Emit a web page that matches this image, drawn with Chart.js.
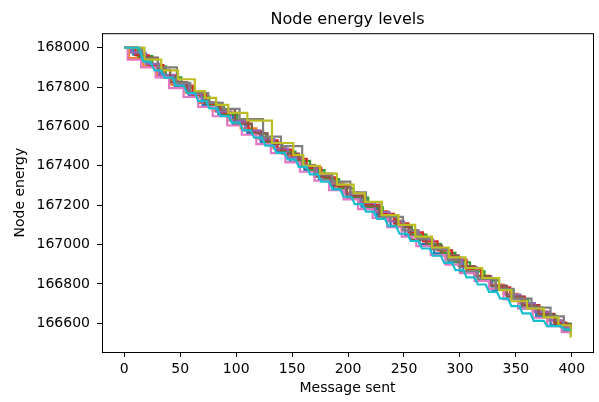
<!DOCTYPE html>
<html>
<head>
<meta charset="utf-8">
<script src="https://cdn.jsdelivr.net/npm/chart.js@4"></script>
<style>
  html, body { margin: 0; padding: 0; background: #fff; }
  #wrap { width: 599px; height: 402px; }
</style>
</head>
<body>
<div id="wrap"><canvas id="canvas" width="599" height="402"></canvas></div>
<script>
// tick labels
var xTicks = [0, 50, 100, 150, 200, 250, 300, 350, 400];
var yTicks = [166600, 166800, 167000, 167200, 167400, 167600, 167800, 168000];

// each node: [message, energy] at every point where its level changes
var node0 = [[0,168000],[8,167965],[20,167905],[33,167850],[45,167802],[58,167755],[70,167710],[84,167662],[97,167610],[110,167568],[122,167520],[136,167470],[148,167422],[161,167378],[174,167330],[187,167282],[199,167238],[212,167192],[226,167140],[238,167095],[251,167048],[264,167002],[277,166955],[290,166910],[303,166862],[316,166816],[329,166770],[342,166722],[355,166676],[368,166635],[381,166592],[393,166560],[399,166556]];
var node1 = [[0,168000],[4,167948],[17,167905],[29,167860],[42,167812],[55,167770],[66,167720],[79,167680],[92,167632],[104,167590],[118,167540],[131,167492],[144,167450],[157,167405],[170,167356],[183,167310],[196,167264],[209,167216],[222,167170],[235,167122],[248,167074],[261,167030],[274,166980],[287,166936],[300,166890],[313,166842],[326,166796],[339,166750],[352,166702],[365,166660],[378,166615],[390,166580],[399,166550]];
var node2 = [[0,168000],[12,167958],[25,167905],[37,167850],[51,167798],[63,167752],[76,167708],[89,167660],[101,167612],[114,167565],[127,167518],[140,167472],[153,167425],[166,167378],[179,167332],[192,167286],[205,167238],[218,167190],[231,167144],[244,167098],[257,167050],[270,167004],[283,166958],[296,166910],[309,166864],[322,166818],[335,166770],[348,166724],[361,166680],[374,166636],[387,166598],[399,166548]];
var node3 = [[0,168000],[10,167962],[22,167912],[35,167860],[48,167808],[61,167762],[73,167716],[86,167670],[99,167624],[111,167576],[124,167530],[137,167482],[150,167436],[163,167390],[176,167342],[189,167296],[202,167250],[215,167202],[228,167156],[241,167108],[254,167062],[267,167016],[280,166970],[293,166922],[306,166876],[319,166830],[332,166782],[345,166736],[358,166692],[371,166648],[384,166604],[395,166566],[399,166560]];
var node4 = [[0,168000],[6,167975],[19,167918],[31,167862],[44,167815],[57,167766],[69,167722],[82,167675],[95,167630],[108,167580],[121,167536],[134,167488],[146,167442],[159,167398],[172,167350],[185,167305],[198,167258],[211,167212],[224,167166],[237,167118],[250,167072],[263,167026],[276,166978],[289,166932],[302,166886],[315,166840],[328,166792],[341,166746],[354,166702],[367,166658],[380,166615],[392,166578],[399,166556]];
var node5 = [[0,168000],[14,167950],[30,167888],[41,167825],[56,167775],[72,167720],[85,167688],[99,167615],[114,167565],[128,167512],[141,167462],[156,167402],[170,167345],[184,167300],[199,167245],[214,167195],[228,167140],[243,167090],[256,167025],[270,166995],[284,166945],[299,166890],[313,166840],[327,166790],[342,166735],[356,166690],[370,166645],[385,166595],[399,166545]];
var node6 = [[0,168000],[3,167940],[15,167900],[28,167850],[40,167795],[53,167750],[66,167700],[79,167652],[92,167605],[105,167558],[118,167510],[131,167465],[144,167418],[157,167370],[170,167325],[183,167276],[196,167230],[209,167180],[222,167135],[235,167088],[248,167040],[261,166992],[274,166946],[287,166898],[300,166855],[313,166815],[326,166775],[339,166722],[352,166675],[365,166628],[378,166585],[391,166555],[399,166540]];
var node7 = [[0,168000],[16,167945],[30,167900],[47,167822],[59,167770],[75,167720],[88,167690],[103,167637],[124,167548],[140,167500],[159,167404],[170,167360],[186,167320],[202,167265],[216,167215],[230,167141],[249,167073],[262,167030],[275,166975],[289,166920],[300,166865],[316,166825],[332,166775],[348,166725],[364,166680],[381,166635],[393,166564],[399,166556]];
var node8 = [[0,168000],[18,167940],[33,167885],[48,167840],[63,167780],[72,167745],[82,167710],[93,167669],[110,167630],[132,167516],[151,167455],[160,167400],[175,167360],[190,167305],[205,167260],[215,167217],[230,167150],[245,167100],[260,167040],[275,166985],[290,166935],[305,166880],[320,166830],[335,166768],[346,166712],[360,166675],[375,166630],[388,166590],[399,166528]];
// last node drops a little slower, so its corners are listed as plain points
var node9 = [[0,168000],[13,168000],[17,167930],[23,167930],[27,167885],[33,167885],[36,167848],[43,167848],[46,167808],[53,167808],[56,167770],[63,167770],[66,167730],[73,167730],[76,167692],[83,167692],[86,167652],[93,167652],[96,167620],[103,167620],[106,167580],[113,167580],[116,167543],[123,167543],[126,167503],[133,167503],[136,167466],[143,167466],[146,167433],[153,167433],[156,167395],[163,167395],[166,167357],[173,167357],[176,167320],[183,167320],[186,167280],[193,167280],[196,167243],[203,167243],[206,167205],[213,167205],[216,167167],[223,167167],[226,167130],[233,167130],[236,167093],[243,167093],[246,167055],[253,167055],[256,167018],[263,167018],[266,166980],[273,166980],[276,166943],[283,166943],[286,166907],[293,166907],[296,166870],[303,166870],[306,166833],[313,166833],[316,166797],[323,166797],[326,166760],[333,166760],[336,166725],[343,166725],[346,166687],[353,166687],[356,166650],[363,166650],[366,166612],[375,166612],[378,166585],[390,166585],[393,166570],[399,166566]];

var nodes = [node0, node1, node2, node3, node4, node5, node6, node7, node8, node9];
var colors = ['#1f77b4', '#ff7f0e', '#2ca02c', '#d62728', '#9467bd', '#8c564b', '#e377c2', '#7f7f7f', '#bcbd22', '#17becf'];

var font = 'DejaVu Sans';

var datasets = nodes.map(function(node, i) {
    return {
        label: 'node ' + i,
        data: node.map(function(p) { return {x: p[0], y: p[1]}; }),
        borderColor: colors[i],
        backgroundColor: colors[i],
        borderWidth: 2.2,
        pointRadius: 0,
        stepped: i == 9 ? false : 'before',
        fill: false,
        order: nodes.length - i
    };
});

var frame = {
    id: 'frame',
    afterDraw: function(chart) {
        var a = chart.chartArea;
        var ctx = chart.ctx;
        ctx.save();
        ctx.strokeStyle = '#000';
        ctx.lineWidth = 1;
        ctx.strokeRect(a.left + 0.5, a.top + 0.5, a.right - a.left, a.bottom - a.top);
        ctx.restore();
    }
};

var config = {
    type: 'line',
    data: { datasets: datasets },
    options: {
        responsive: false,
        animation: false,
        layout: { padding: { left: 0, right: 6, top: 0, bottom: 0 } },
        plugins: {
            legend: { display: false },
            tooltip: { enabled: false },
            title: {
                display: true,
                fullSize: false,
                text: 'Node energy levels',
                color: '#000',
                font: { family: font, size: 16, weight: 'normal' },
                padding: { top: 10, bottom: 4 }
            }
        },
        scales: {
            x: {
                type: 'linear',
                min: -19.95,
                max: 418.95,
                afterBuildTicks: function(scale) {
                    scale.ticks = xTicks.map(function(v) { return {value: v}; });
                },
                afterFit: function(scale) { scale.height = 50; },
                ticks: {
                    color: '#000',
                    font: { family: font, size: 14 },
                    padding: 4,
                    maxRotation: 0,
                    autoSkip: false,
                    callback: function(v) { return String(v); }
                },
                grid: { drawOnChartArea: false, drawTicks: true, tickLength: 5, color: '#000' },
                border: { display: true, color: '#000' },
                title: {
                    display: true,
                    text: 'Message sent',
                    color: '#000',
                    font: { family: font, size: 14 },
                    padding: { top: 0, bottom: 5 }
                }
            },
            y: {
                type: 'linear',
                min: 166454,
                max: 168074,
                afterBuildTicks: function(scale) {
                    scale.ticks = yTicks.map(function(v) { return {value: v}; });
                },
                afterFit: function(scale) { scale.width = 102; },
                ticks: {
                    color: '#000',
                    font: { family: font, size: 14 },
                    padding: 7,
                    autoSkip: false,
                    callback: function(v) { return String(v); }
                },
                grid: { drawOnChartArea: false, drawTicks: true, tickLength: 5, color: '#000' },
                border: { display: true, color: '#000' },
                title: {
                    display: true,
                    text: 'Node energy',
                    color: '#000',
                    font: { family: font, size: 14 },
                    padding: { top: 12, bottom: 0 }
                }
            }
        }
    },
    plugins: [frame]
};

window.onload = function() {
    var ctx = document.getElementById('canvas').getContext('2d');
    window.myLine = new Chart(ctx, config);
};
</script>
</body>
</html>
